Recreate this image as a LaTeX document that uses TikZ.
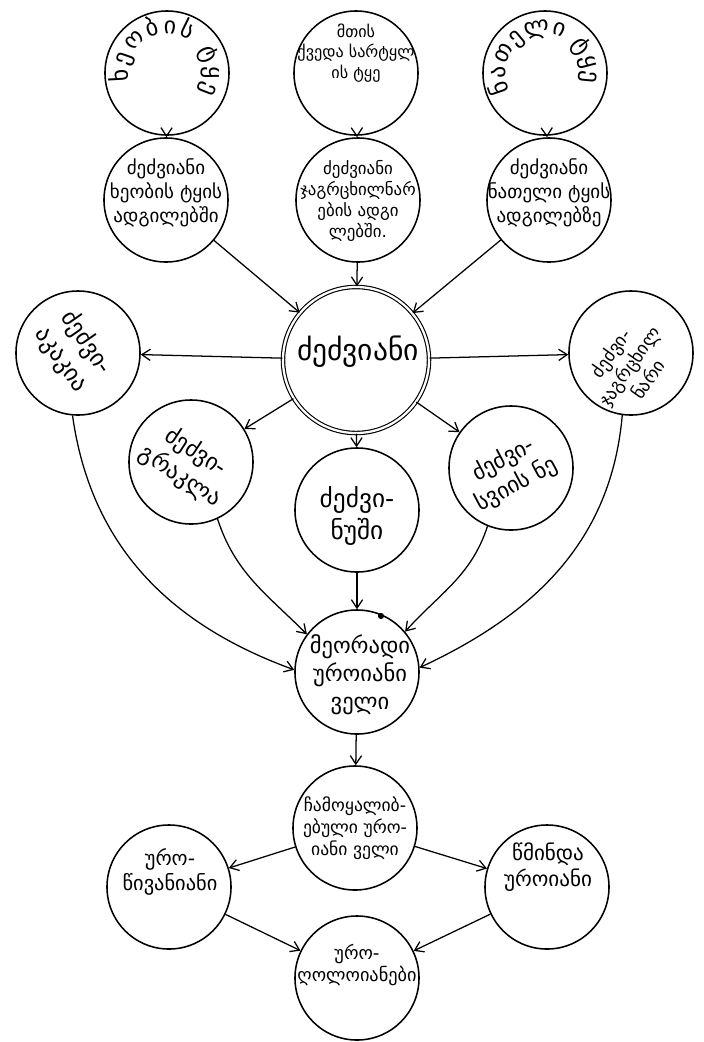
\documentclass[tikz,border=0pt]{standalone}
\usepackage{fontspec}
\newfontfamily\geo{DejaVu Sans}
\usetikzlibrary{arrows.meta,calc,decorations.text}

\begin{document}
\begin{tikzpicture}[x=0.025cm, y=-0.025cm, line width=0.9pt]
  % Estilos
  \tikzset{
    ring/.style={draw, circle, minimum size=3.1cm, inner sep=0pt, line width=1.1pt},
    core/.style={draw, circle, minimum size=3.65cm, inner sep=0pt, double, double distance=1.6pt, line width=0.8pt},
    say/.style={align=center, inner sep=0pt, font=\geo\fontsize{#1}{\dimexpr#1pt*5/4\relax}\selectfont},
    say/.default=12,
    arr/.style={-{Straight Barb[length=6pt,width=8pt]}, line width=0.9pt},
  }
  \useasboundingbox (0,0) rectangle (704,1042);

  % --- Fila superior: tipos de bosque ---
  \node[ring] (valley) at (167,73) {};
  \node[ring] (lowbelt) at (356,73) {};
  \node[ring] (light) at (545,73) {};
  \path[decorate, decoration={text along path, text align={fit to path},
      text={|\geo\fontsize{17}{17}\selectfont|ხეობის ტყე}}]
    ($(valley)+(192:0.98cm)$) arc[start angle=192, end angle=-30, radius=0.98cm];
  \path[decorate, decoration={text along path, text align={fit to path},
      text={|\geo\fontsize{17}{17}\selectfont|ნათელი ტყე}}]
    ($(light)+(208:0.98cm)$) arc[start angle=208, end angle=-14, radius=0.98cm];
  \node[say=11.5] (lowbelt-t) at (356,53) {მთის\\ქვედა სარტყლ\\ის ტყე};

  % --- Segunda fila ---
  \node[ring] (valleyP) at (166,200) {};
  \node[ring] (beltP) at (358,200) {};
  \node[ring] (lightP) at (549,200) {};
  \node[say=13.5] (valleyP-t) at (166,193) {ძეძვიანი\\ხეობის ტყის\\ადგილებში};
  \node[say=12] (beltP-t) at (358,201) {ძეძვიანი\\ჯაგრცხილნარ\\ების ადგი\\ლებში.};
  \node[say=13.5] (lightP-t) at (549,193) {ძეძვიანი\\ნათელი ტყის\\ადგილებზე};

  \draw[arr] (valley) -- (valleyP);
  \draw[arr] (lowbelt) -- (beltP);
  \draw[arr] (light) -- (lightP);

  % --- Centro ---
  \node[core] (paliurus) at (356,360) {};
  \node[say=21] (paliurus-t) at (358,352) {ძეძვიანი};
  \draw[arr] (valleyP) -- (paliurus);
  \draw[arr] (beltP) -- (paliurus);
  \draw[arr] (lightP) -- (paliurus);

  % --- Variantes del ძეძვიანი ---
  \node[ring] (west) at (78,353) {};
  \node[ring] (east) at (631,353) {};
  \node[ring] (spiraea) at (191,462) {};
  \node[ring] (almond) at (357,510) {};
  \node[ring] (hop) at (511,468) {};
  \node[say=17, rotate=-55] (west-t) at (74,351) {ძეძვი-\\აკაკია};
  \node[say=13, rotate=55] (east-t) at (629,366) {ძეძვი-\\ჯაგრცხილ\\ნარი};
  \node[say=16.5, rotate=-33] (spiraea-t) at (188,464) {ძეძვი-\\გრაკლა};
  \node[say=18] (almond-t) at (357,516) {ძეძვი-\\ნუში};
  \node[say=16, rotate=28] (hop-t) at (510,472) {ძეძვი-\\სვიის ნე};

  \draw[arr] (paliurus) -- (west);
  \draw[arr] (paliurus) -- (east);
  \draw[arr] (paliurus) -- (spiraea);
  \draw[arr] (paliurus) -- (almond);
  \draw[arr] (paliurus) -- (hop);

  % --- Estepa secundaria ---
  \node[ring] (second) at (357,672) {};
  \node[say=16] (second-t) at (360,675) {მეორადი\\უროიანი\\ველი};
  \fill (381,616) circle (2.2pt);

  \draw[arr] (west.-95) to[out=-82, in=160] (second.178);
  \draw[arr] (spiraea.-65) to[out=-72, in=135] (second.143);
  \draw[arr] (almond) -- (second);
  \draw[arr] (hop.-112) to[out=-108, in=48] (second.40);
  \draw[arr] (east.-98) to[out=-95, in=25] (second.4);

  % --- Parte inferior ---
  \node[ring] (formed) at (355,828) {};
  \node[ring] (fescue) at (169,887) {};
  \node[ring] (pure) at (547,887) {};
  \node[ring] (goat) at (357,978) {};
  \node[say=12.5] (formed-t) at (355,828) {ჩამოყალიბ-\\ებული ურო-\\იანი ველი};
  \node[say=14.5] (fescue-t) at (170,872) {ურო-\\წივანიანი};
  \node[say=15] (pure-t) at (548,867) {წმინდა\\უროიანი};
  \node[say=13] (goat-t) at (357,965) {ურო-\\ღოლოიანები};

  \draw[arr] (second) -- (formed);
  \draw[arr] (formed) -- (fescue);
  \draw[arr] (formed) -- (pure);
  \draw[arr] (fescue) -- (goat);
  \draw[arr] (pure) -- (goat);
\end{tikzpicture}
\end{document}
